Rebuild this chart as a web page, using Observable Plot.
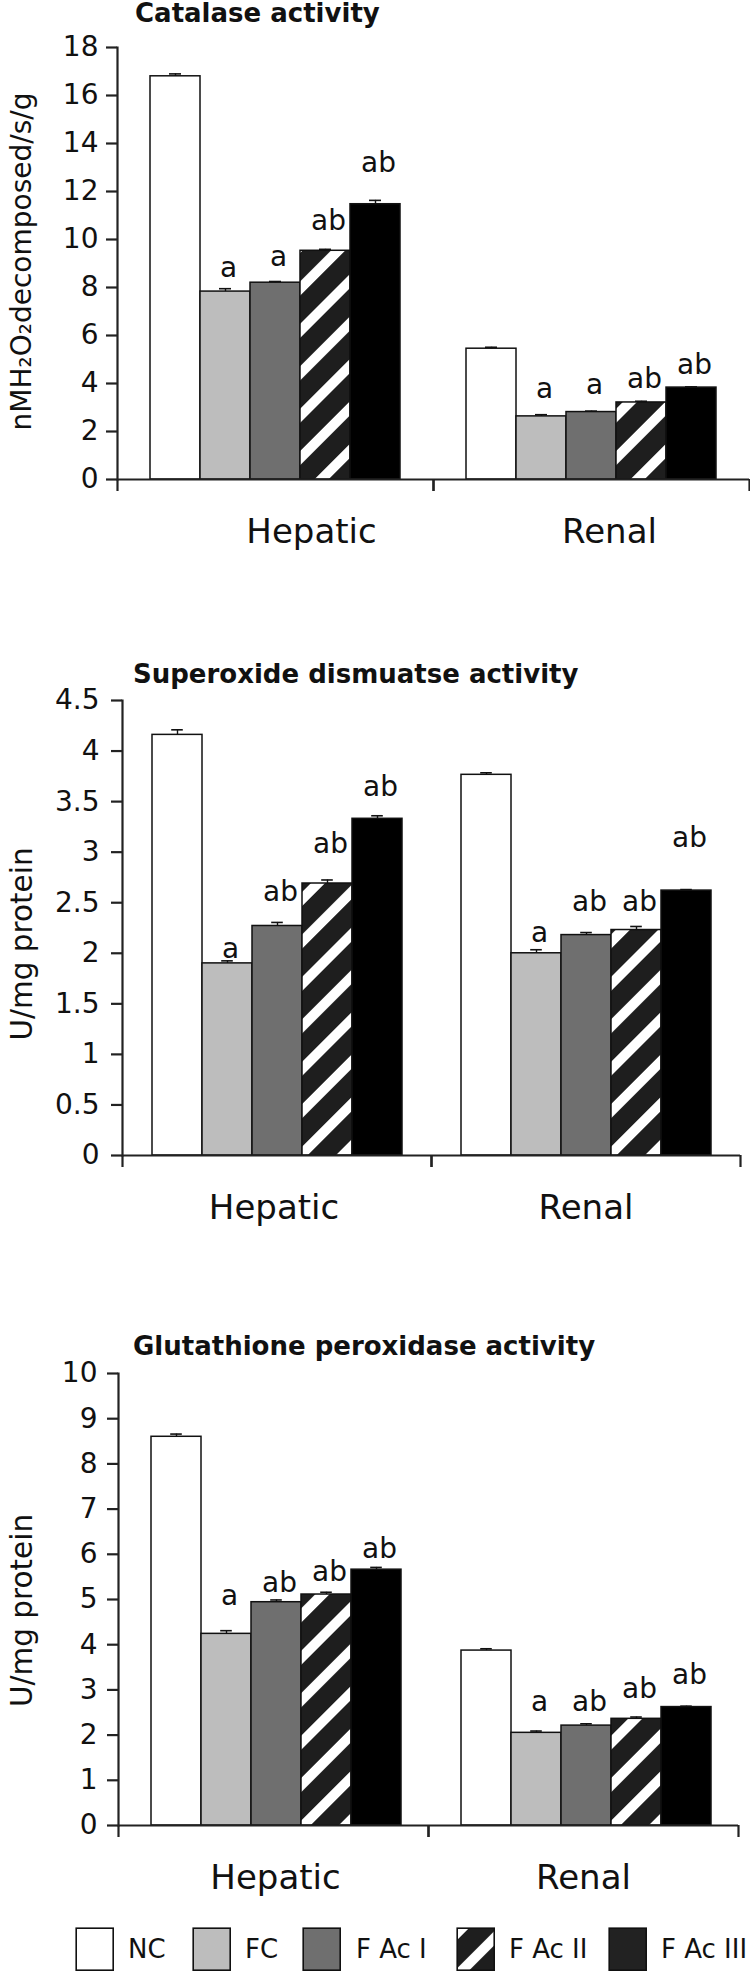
<!DOCTYPE html>
<html>
<head>
<meta charset="utf-8">
<script src="https://cdn.jsdelivr.net/npm/d3@7"></script>
<script src="https://cdn.jsdelivr.net/npm/@observablehq/plot@0.6"></script>
<style>
  html, body { margin: 0; padding: 0; background: #fff; }
  body { width: 750px; height: 1982px; position: relative; overflow: hidden;
         font-family: "DejaVu Sans", sans-serif; color: #111; }
  .title { position: absolute; font-weight: bold; font-size: 26px; line-height: 30px; white-space: nowrap; }
  .chart { position: absolute; left: 0; }
  .legend-swatch { position: absolute; }
  .legend-text { position: absolute; font-size: 26px; line-height: 30px; white-space: nowrap; }
</style>
</head>
<body>
<svg width="0" height="0" style="position:absolute;left:0;top:0">
  <defs>
    <pattern id="hatch" patternUnits="userSpaceOnUse" width="30" height="30" patternTransform="rotate(45)">
      <rect width="30" height="30" fill="#1e1e1e"></rect>
      <rect width="10" height="30" fill="#ffffff"></rect>
    </pattern>
  </defs>
</svg>
<div id="root"></div>
<script>
// ---------- shared categories ----------
const groups = ["Hepatic", "Renal"];
const series = ["NC", "FC", "F Ac I", "F Ac II", "F Ac III"];
const seriesFill = ["#ffffff", "#bdbdbd", "#6f6f6f", "url(#hatch)", "#000000"];
const legendFill = ["#ffffff", "#bdbdbd", "#6f6f6f", "url(#hatch)", "#222222"];

// ---------- Catalase activity ----------
const catTitle = "Catalase activity";
const catYLabel = "nMH\u2082O\u2082decomposed/s/g";
const catTicks = [0, 2, 4, 6, 8, 10, 12, 14, 16, 18];
const catHepatic   = [16.80, 7.83, 8.20, 9.53, 11.47];
const catHepaticSE = [0.10, 0.12, 0.05, 0.06, 0.16];
const catRenal     = [5.45, 2.63, 2.81, 3.21, 3.83];
const catRenalSE   = [0.06, 0.07, 0.04, 0.05, 0.03];
const catHepaticSig  = ["", "a", "a", "ab", "ab"];
const catRenalSig    = ["", "a", "a", "ab", "ab"];
const catHepaticSigY = [null, 8.42, 8.88, 10.38, 12.83];
const catRenalSigY   = [null, 3.38, 3.58, 3.83, 4.38];

// ---------- Superoxide dismutase activity ----------
const sodTitle = "Superoxide dismuatse activity";
const sodYLabel = "U/mg protein";
const sodTicks = [0, 0.5, 1, 1.5, 2, 2.5, 3, 3.5, 4, 4.5];
const sodHepatic   = [4.16, 1.90, 2.27, 2.69, 3.33];
const sodHepaticSE = [0.05, 0.025, 0.035, 0.035, 0.03];
const sodRenal     = [3.765, 2.00, 2.18, 2.23, 2.62];
const sodRenalSE   = [0.02, 0.035, 0.025, 0.035, 0.01];
const sodHepaticSig  = ["", "a", "ab", "ab", "ab"];
const sodRenalSig    = ["", "a", "ab", "ab", "ab"];
const sodHepaticSigY = [null, 1.95, 2.52, 2.99, 3.56];
const sodRenalSigY   = [null, 2.11, 2.42, 2.42, 3.05];

// ---------- Glutathione peroxidase activity ----------
const gpxTitle = "Glutathione peroxidase activity";
const gpxYLabel = "U/mg protein";
const gpxTicks = [0, 1, 2, 3, 4, 5, 6, 7, 8, 9, 10];
const gpxHepatic   = [8.60, 4.24, 4.94, 5.11, 5.66];
const gpxHepaticSE = [0.06, 0.07, 0.05, 0.05, 0.05];
const gpxRenal     = [3.87, 2.05, 2.21, 2.36, 2.62];
const gpxRenalSE   = [0.04, 0.04, 0.04, 0.04, 0.02];
const gpxHepaticSig  = ["", "a", "ab", "ab", "ab"];
const gpxRenalSig    = ["", "a", "ab", "ab", "ab"];
const gpxHepaticSigY = [null, 4.87, 5.16, 5.42, 5.91];
const gpxRenalSigY   = [null, 2.53, 2.53, 2.81, 3.14];

// ---------- rendering ----------
const FONT = '"DejaVu Sans", sans-serif';
const INK = "#111";
const AXIS = "#222";

function addTitle(text, left, top) {
  const d = document.createElement("div");
  d.className = "title";
  d.textContent = text;
  d.style.left = left + "px";
  d.style.top = top + "px";
  document.body.appendChild(d);
}

function drawChart(cfg, L) {
  const rows = [];
  groups.forEach((g, gi) => {
    const v = gi ? cfg.ren : cfg.hep;
    const se = gi ? cfg.renSE : cfg.hepSE;
    const sig = gi ? cfg.renSig : cfg.hepSig;
    const sy = gi ? cfg.renSigY : cfg.hepSigY;
    series.forEach((s, si) => rows.push({
      group: g, series: s, fill: seriesFill[si],
      value: v[si], top: v[si] + se[si], sig: sig[si], sigY: sy[si]
    }));
  });
  const yMax = cfg.ticks[cfg.ticks.length - 1];
  const bw = (750 - L.ml - L.mr) / 2;
  const step = bw / (series.length + 2 * L.po);
  const capInset = (step - 12) / 2;

  addTitle(cfg.title, L.titleX, L.titleTop);

  const plot = Plot.plot({
    width: 750, height: L.h,
    marginLeft: L.ml, marginRight: L.mr, marginTop: L.mt, marginBottom: L.mb,
    style: {fontFamily: FONT, fontSize: "28px", color: INK, background: "none", overflow: "visible"},
    fx: {domain: groups, padding: 0, axis: null, label: null},
    x: {domain: series, paddingInner: 0, paddingOuter: L.po, align: L.align, axis: null},
    y: {domain: [0, yMax], axis: null},
    color: {type: "identity"},
    marks: [
      Plot.barY(rows, {fx: "group", x: "series", y: "value", fill: "fill", stroke: INK, strokeWidth: 1.5}),
      Plot.ruleX(rows, {fx: "group", x: "series", y1: "value", y2: "top", stroke: INK, strokeWidth: 1.4}),
      Plot.tickY(rows, {fx: "group", x: "series", y: "top", stroke: INK, strokeWidth: 1.6,
                        insetLeft: capInset, insetRight: capInset}),
      Plot.text(rows.filter(d => d.sig), {fx: "group", x: "series", y: "sigY", text: "sig",
                        lineAnchor: "bottom", fontSize: 28, dx: 3, fill: INK}),
      Plot.ruleY([0], {stroke: AXIS, strokeWidth: 2.2}),
      Plot.frame({anchor: "left", facetAnchor: "left", stroke: AXIS, strokeWidth: 2.2}),
      Plot.axisY({ticks: cfg.ticks, tickSize: 11, tickPadding: L.tp, tickFormat: d => String(d),
                  strokeWidth: 2.2, stroke: AXIS, fontSize: 28, label: null}),
      Plot.axisFx({anchor: "bottom", tickSize: 12, tickFormat: () => "", dx: -bw / 2,
                   strokeWidth: 2.2, stroke: AXIS, label: null}),
      Plot.axisFx({anchor: "bottom", tickSize: 12, tickFormat: () => "", dx: bw / 2,
                   strokeWidth: 2.2, stroke: AXIS, label: null}),
      Plot.axisFx({anchor: "bottom", ticks: ["Hepatic"], tickSize: 0, tickPadding: 39,
                   fontSize: 34, dx: L.gdx[0], label: null}),
      Plot.axisFx({anchor: "bottom", ticks: ["Renal"], tickSize: 0, tickPadding: 39,
                   fontSize: 34, dx: L.gdx[1], label: null}),
      Plot.text([cfg.yLabel], {fx: () => "Hepatic", frameAnchor: "left", textAnchor: "middle",
                  rotate: -90, text: d => d, fontSize: L.ylFont, dx: 22 - L.ml, dy: L.yldy, fill: INK})
    ]
  });
  plot.classList.add("chart");
  plot.style.top = L.top + "px";
  plot.style.position = "absolute";
  document.body.appendChild(plot);
}

drawChart({
  title: catTitle, yLabel: catYLabel, ticks: catTicks,
  hep: catHepatic, hepSE: catHepaticSE, ren: catRenal, renSE: catRenalSE,
  hepSig: catHepaticSig, renSig: catRenalSig, hepSigY: catHepaticSigY, renSigY: catRenalSigY
}, {top: 30, h: 529, ml: 117, mr: 1, mt: 17, mb: 80, po: 0.66, align: 0.5, tp: 8,
    gdx: [36, 18], ylFont: 28, yldy: -2, titleX: 135, titleTop: -2});

drawChart({
  title: sodTitle, yLabel: sodYLabel, ticks: sodTicks,
  hep: sodHepatic, hepSE: sodHepaticSE, ren: sodRenal, renSE: sodRenalSE,
  hepSig: sodHepaticSig, renSig: sodRenalSig, hepSigY: sodHepaticSigY, renSigY: sodRenalSigY
}, {top: 685, h: 550, ml: 122, mr: 10, mt: 15, mb: 80, po: 0.566, align: 0.5, tp: 12,
    gdx: [-3, 0], ylFont: 29.5, yldy: 16, titleX: 133, titleTop: 659});

drawChart({
  title: gpxTitle, yLabel: gpxYLabel, ticks: gpxTicks,
  hep: gpxHepatic, hepSE: gpxHepaticSE, ren: gpxRenal, renSE: gpxRenalSE,
  hepSig: gpxHepaticSig, renSig: gpxRenalSig, hepSigY: gpxHepaticSigY, renSigY: gpxRenalSigY
}, {top: 1358, h: 547, ml: 118, mr: 12, mt: 15, mb: 80, po: 0.575, align: 0.55, tp: 10,
    gdx: [2, 0], ylFont: 29.5, yldy: 11, titleX: 133, titleTop: 1331});

// ---------- legend ----------
const legendSwatchX = [76, 193, 303, 457, 609];
const legendTextX = [128, 245, 356, 509, 661];
series.forEach((s, i) => {
  const sw = document.createElementNS("http://www.w3.org/2000/svg", "svg");
  sw.setAttribute("width", 40);
  sw.setAttribute("height", 45);
  sw.setAttribute("class", "legend-swatch");
  sw.style.left = (legendSwatchX[i] - 1) + "px";
  sw.style.top = "1927px";
  const r = document.createElementNS("http://www.w3.org/2000/svg", "rect");
  r.setAttribute("x", 1.2); r.setAttribute("y", 1.2);
  r.setAttribute("width", 37); r.setAttribute("height", 42);
  r.setAttribute("fill", legendFill[i]);
  r.setAttribute("stroke", INK);
  r.setAttribute("stroke-width", 1.6);
  sw.appendChild(r);
  document.body.appendChild(sw);
  const t = document.createElement("div");
  t.className = "legend-text";
  t.textContent = s;
  t.style.left = legendTextX[i] + "px";
  t.style.top = "1934px";
  document.body.appendChild(t);
});
</script>
</body>
</html>
